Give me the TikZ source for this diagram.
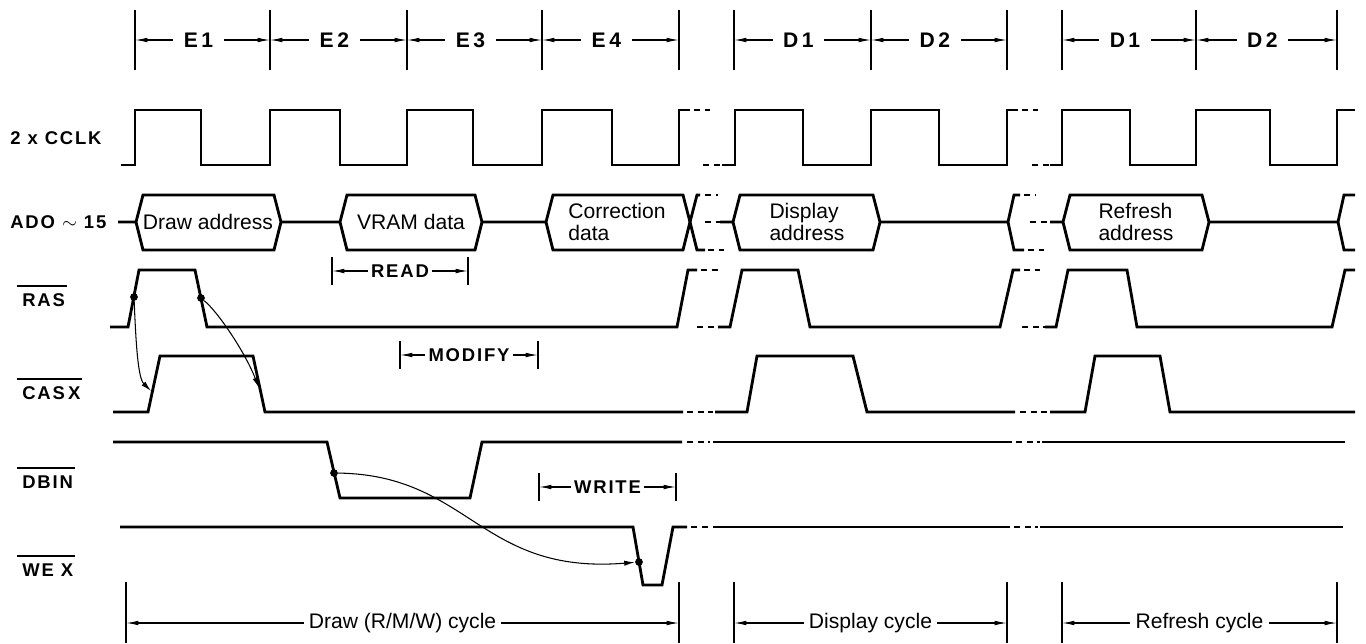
\documentclass[tikz,border=0pt]{standalone}
\usepackage{fontspec}
\setmainfont{Liberation Sans}
\newfontfamily\lblfont[LetterSpace=10]{Liberation Sans}
\usetikzlibrary{arrows.meta}

\begin{document}
\begin{tikzpicture}[x=0.02cm, y=-0.02cm,
		sig/.style={line width=1.6pt},
		brk/.style={line width=1.6pt, dash pattern=on 3.5pt off 2.5pt},
		tck/.style={line width=0.9pt},
		dim/.style={line width=0.6pt, {Latex[length=7pt,width=2.6pt]}-{Latex[length=7pt,width=2.6pt]}},
		sigl/.style={font=\lblfont\bfseries\fontsize{10.5}{12}\selectfont, anchor=west, inner sep=0pt},
		ovl/.style={line width=0.9pt},
		rul/.style={font=\lblfont\bfseries\fontsize{12}{13}\selectfont, fill=white, inner xsep=6pt, inner ysep=2pt},
		phl/.style={font=\lblfont\bfseries\fontsize{10.5}{12}\selectfont, fill=white, inner sep=2pt},
		txt/.style={font=\fontsize{12}{13}\selectfont, align=left, inner sep=0pt},
		cyc/.style={font=\fontsize{12}{13}\selectfont, fill=white, inner sep=3pt},
		tim/.style={line width=0.6pt, -{Latex[length=6pt,width=3pt]}},
		dot/.style={circle, fill, inner sep=0pt, minimum size=4.4pt}]
				\useasboundingbox (0,0) rectangle (1366,643);

				% Phase ruler
				\foreach \x [count=\i] in {135,270,407,542,679,734,871,1007,1062,1196,1337}{
					\draw[tck] (\x,10) -- (\x,70);
					\coordinate (t\i) at (\x,40);
				}
				\foreach \a/\b/\p in {1/2/E\hspace{2pt}1, 2/3/E\hspace{2pt}2, 3/4/E\hspace{2pt}3, 4/5/E\hspace{2pt}4, 6/7/D\hspace{2pt}1, 7/8/D\hspace{2pt}2, 9/10/D\hspace{2pt}1, 10/11/D\hspace{2pt}2}
					\draw[dim] (t\a) -- node[rul, pos=0.47] (ph\a) {\p} (t\b);

				% Signal names
				\node[sigl] (clk) at (10,138) {2 x CCLK};
				\node[sigl] (ad) at (10,222) {ADO $\sim$ 15};
				\node[sigl] (ras) at (22,300) {RAS};
				\node[sigl] (cas) at (22,393) {CAS\,X};
				\node[sigl] (dbin) at (22,482) {DBIN};
				\node[sigl] (wex) at (22,570) {WE X};
				\foreach \n in {ras,cas,dbin,wex}
					\draw[ovl] ([xshift=-3pt,yshift=4pt]\n.north west) -- ([xshift=1pt,yshift=4pt]\n.north east);

				% 2xCCLK
				\draw[sig] (121,165) -- (135,165) -- (135,110) -- (201,110) -- (201,165) -- (270,165) -- (270,110) -- (340,110) -- (340,165) -- (407,165) -- (407,110) -- (473,110) -- (473,165) -- (542,165) -- (542,110) -- (612,110) -- (612,165) -- (679,165) -- (679,110) -- (690,110);
				\draw[brk] (694,110) -- (710,110) (703,165) -- (722,165);
				\draw[sig] (722,165) -- (735,165) -- (735,110) -- (803,110) -- (803,165) -- (871,165) -- (871,110) -- (939,110) -- (939,165) -- (1007,165) -- (1007,110) -- (1018,110);
				\draw[brk] (1022,110) -- (1038,110) (1032,165) -- (1050,165);
				\draw[sig] (1050,165) -- (1062,165) -- (1062,110) -- (1130,110) -- (1130,165) -- (1196,165) -- (1196,110) -- (1270,110) -- (1270,165) -- (1337,165) -- (1337,110) -- (1355,110);

				% ADO~15 bus
				\draw[sig] (118,222) -- (136,222) -- (143,195) -- (274,195) -- (281,222) -- (274,250) -- (143,250) -- (136,222);
				\draw[sig] (281,222) -- (340,222) -- (347,195) -- (475,195) -- (482,222) -- (475,250) -- (347,250) -- (340,222);
				\draw[sig] (482,222) -- (546,222) -- (553,195) -- (683,195) -- (690,222) -- (683,250) -- (553,250) -- (546,222);
				\draw[sig] (700,195) -- (697,195) -- (690,222) -- (697,250) -- (705,250);
				\draw[brk] (705,195) -- (718,195) (708,250) -- (724,250) (705,222) -- (720,222);
				\draw[sig] (720,222) -- (733,222) -- (740,195) -- (873,195) -- (880,222) -- (873,250) -- (740,250) -- (733,222);
				\draw[sig] (880,222) -- (1008,222) (1020,195) -- (1014,195) -- (1008,222) -- (1014,250) -- (1024,250);
				\draw[brk] (1024,195) -- (1036,195) (1028,250) -- (1044,250) (1030,222) -- (1050,222);
				\draw[sig] (1050,222) -- (1063,222) -- (1070,195) -- (1202,195) -- (1209,222) -- (1202,250) -- (1070,250) -- (1063,222);
				\draw[sig] (1209,222) -- (1338,222) (1355,195) -- (1344,195) -- (1338,222) -- (1344,250) -- (1355,250);
				\node[txt] (da) at (208,222) {Draw address};
				\node[txt] (vd) at (411,222) {VRAM data};
				\node[txt] (cd) at (617,222) {Correction\\data};
				\node[txt] (dsp) at (807,222) {Display\\address};
				\node[txt] (rfa) at (1136,222) {Refresh\\address};

				% RAS
				\draw[sig] (110,327) -- (128,327) -- (139,270) -- (195,270) -- (207,327) -- (677,327) -- (688,270) -- (697,270);
				\draw[brk] (701,270) -- (718,270) (697,327) -- (718,327);
				\draw[sig] (718,327) -- (730,327) -- (742,270) -- (798,270) -- (810,327) -- (1000,327) -- (1013,270) -- (1020,270);
				\draw[brk] (1024,270) -- (1040,270) (1022,327) -- (1045,327);
				\draw[sig] (1045,327) -- (1056,327) -- (1068,270) -- (1127,270) -- (1137,327) -- (1332,327) -- (1345,270) -- (1355,270);

				% CASX
				\draw[sig] (113,412) -- (148,412) -- (160,356) -- (253,356) -- (265,412) -- (683,412);
				\draw[brk] (687,412) -- (713,412);
				\draw[sig] (715,412) -- (747,412) -- (757,356) -- (853,356) -- (867,412) -- (1015,412);
				\draw[brk] (1020,412) -- (1047,412);
				\draw[sig] (1050,412) -- (1085,412) -- (1095,356) -- (1160,356) -- (1170,412) -- (1355,412);

				% DBIN
				\draw[sig] (113,442) -- (327,442) -- (340,498) -- (470,498) -- (482,442) -- (682,442);
				\draw[brk] (687,442) -- (710,442);
				\draw[sig] (713,442) -- (1012,442);
				\draw[brk] (1016,442) -- (1040,442);
				\draw[sig] (1042,442) -- (1345,442);

				% WEX
				\draw[sig] (120,527) -- (633,527) -- (643,585) -- (662,585) -- (673,527) -- (687,527);
				\draw[brk] (691,527) -- (711,527);
				\draw[sig] (713,527) -- (1010,527);
				\draw[brk] (1014,527) -- (1038,527);
				\draw[sig] (1040,527) -- (1343,527);

				% READ / MODIFY / WRITE
				\foreach \a/\b/\y/\t in {332/468/271/READ, 400/538/355/MODIFY, 539/676/487/WRITE}{
					\draw[tck] (\a,\y-14) -- (\a,\y+14) (\b,\y-14) -- (\b,\y+14);
					\draw[dim] (\a,\y) -- node[phl] (\t) {\t} (\b,\y);
				}

				% Timing relations
				\node[dot] (rr) at (134,297) {};
				\node[dot] (rf) at (201,298) {};
				\node[dot] (db) at (334,473) {};
				\node[dot] (we) at (639,562) {};
				\coordinate (cr) at (151,391);
				\coordinate (cf) at (259,388);
				\draw[tim] (rr) .. controls (136,345) and (138,378) .. (cr);
				\draw[tim] (rf) .. controls (218,312) and (245,352) .. (cf);
				\draw[tim] (db) .. controls (470,475) and (480,575) .. (we);

				% Cycles
				\foreach \x [count=\i] in {126,679,734,1007,1062,1337}{
					\draw[tck] (\x,582) -- (\x,643);
					\coordinate (c\i) at (\x,623);
				}
				\draw[dim] (c1) -- node[cyc] (drw) {Draw (R/M/W) cycle} (c2);
				\draw[dim] (c3) -- node[cyc] (dsc) {Display cycle} (c4);
				\draw[dim] (c5) -- node[cyc] (rfc) {Refresh cycle} (c6);
			\end{tikzpicture}
\end{document}
